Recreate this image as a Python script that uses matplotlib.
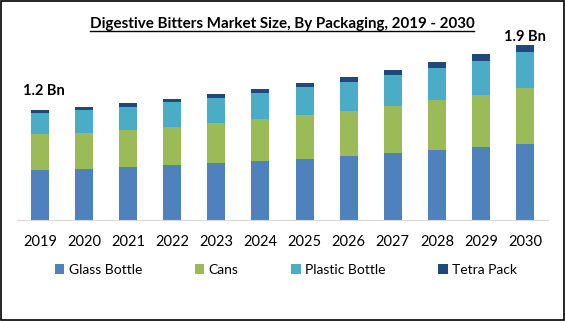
import matplotlib.pyplot as plt
from matplotlib.patches import Patch, Rectangle
from matplotlib.lines import Line2D
import numpy as np

# ===================== data (Bn USD) =====================
years = ["2019", "2020", "2021", "2022", "2023", "2024",
         "2025", "2026", "2027", "2028", "2029", "2030"]
glass_bottle = [0.545, 0.556, 0.578, 0.600, 0.621, 0.643, 0.665, 0.698, 0.730, 0.763, 0.796, 0.828]
cans = [0.392, 0.392, 0.403, 0.414, 0.436, 0.458, 0.480, 0.491, 0.512, 0.545, 0.567, 0.610]
plastic_bottle = [0.232, 0.251, 0.251, 0.273, 0.273, 0.283, 0.305, 0.316, 0.338, 0.349, 0.371, 0.392]
tetra_pack = [0.029, 0.033, 0.044, 0.033, 0.044, 0.044, 0.047, 0.055, 0.058, 0.065, 0.076, 0.076]
series_names = ["Glass Bottle", "Cans", "Plastic Bottle", "Tetra Pack"]
first_label = "1.2 Bn"
last_label = "1.9 Bn"

COLORS = ["#4F81BD", "#9BBB59", "#4BACC6", "#1F497D"]
FONT = ["Lato", "DejaVu Sans"]

plt.rcParams["font.family"] = FONT

fig = plt.figure(figsize=(5.65, 3.21), dpi=100)
ax = fig.add_axes([17 / 565, 101 / 321, 531 / 565, 183.5 / 321])

x = np.arange(len(years))
series = [glass_bottle, cans, plastic_bottle, tetra_pack]
bottom = np.zeros(len(years))
for vals, color, name in zip(series, COLORS, series_names):
    ax.bar(x, vals, width=0.41, bottom=bottom, color=color, label=name)
    bottom += np.array(vals)

ax.set_xlim(-0.52, 11.52)
ax.set_ylim(0, 2.0)
ax.set_yticks([])
ax.set_xticks(x)
ax.set_xticklabels(years, fontsize=10.5)
ax.tick_params(axis="x", length=0, pad=11)
for side in ["top", "right", "left"]:
    ax.spines[side].set_visible(False)
ax.spines["bottom"].set_color("#D9D9D9")

# value labels on the first and last bar
ax.text(0.08, bottom[0] + 0.21, first_label, ha="center", va="center",
        fontsize=10.5, fontweight="bold")
ax.text(11, bottom[-1] + 0.09, last_label, ha="center", va="center",
        fontsize=10.5, fontweight="bold")

# title with underline
title = fig.text(282 / 565, 1 - 24 / 321,
                 "Digestive Bitters Market Size, By Packaging, 2019 - 2030",
                 ha="center", va="center", fontsize=10.9, fontweight="bold")
fig.canvas.draw()
bb = title.get_window_extent().transformed(fig.transFigure.inverted())
fig.add_artist(Line2D([bb.x0, bb.x1], [1 - 31 / 321] * 2, color="black", lw=1,
                      transform=fig.transFigure))

handles = [Patch(facecolor=c, label=n) for c, n in zip(COLORS, series_names)]
fig.legend(handles=handles, loc="center", bbox_to_anchor=(286 / 565, 1 - 270 / 321),
           ncol=4, frameon=False, fontsize=10, handlelength=0.7, handleheight=0.7,
           handletextpad=0.3, columnspacing=3.8)

# outer border
fig.add_artist(Rectangle((0.001, 0.002), 0.997, 0.995, transform=fig.transFigure,
                         fill=False, edgecolor="black", lw=1.2))

fig.savefig("out.png", dpi=100)
